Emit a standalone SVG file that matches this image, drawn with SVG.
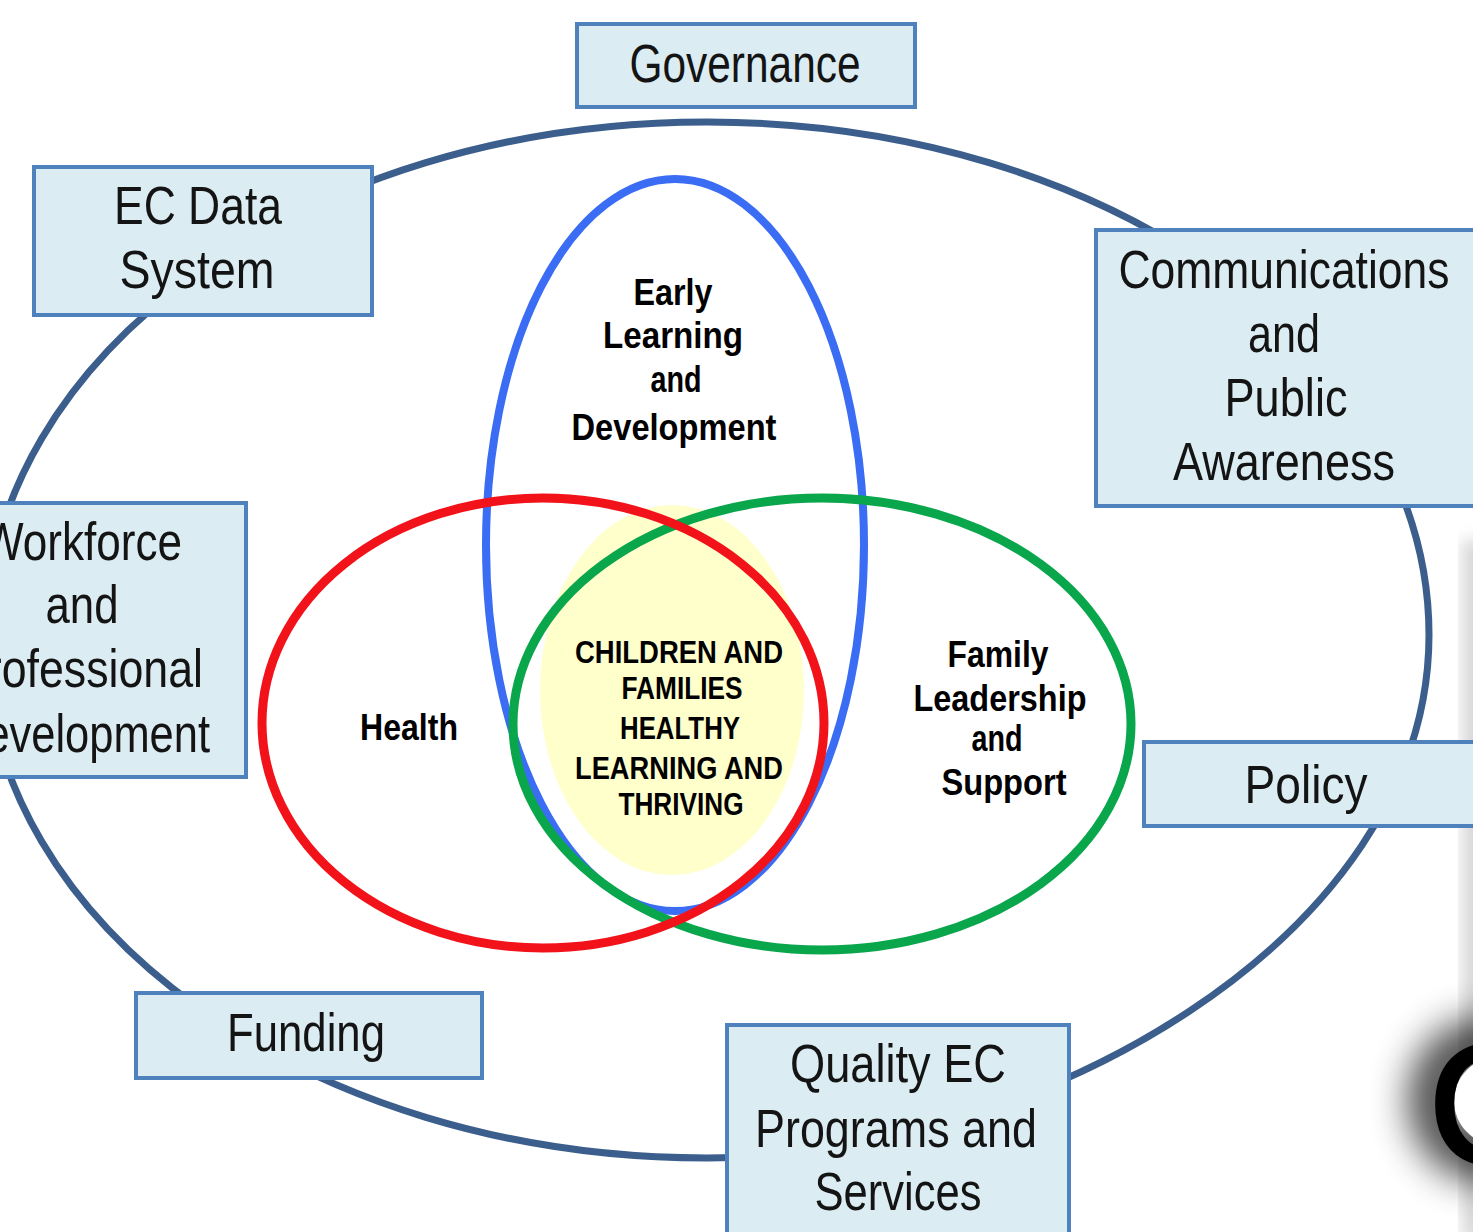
<svg xmlns="http://www.w3.org/2000/svg" width="1473" height="1232" viewBox="0 0 1473 1232">
<defs>
<style>
.box rect{fill:#dbedf3;stroke:#4f81bd;stroke-width:4}
.bt{font-family:"Liberation Sans",Arial,sans-serif;font-size:54px;fill:#141414;text-anchor:middle}
.it{font-family:"Liberation Sans",Arial,sans-serif;font-size:37px;font-weight:bold;fill:#000;text-anchor:middle}
.ct{font-family:"Liberation Sans",Arial,sans-serif;font-size:32px;font-weight:bold;fill:#000;text-anchor:middle}
.cm{font-family:"Liberation Sans",Arial,sans-serif;font-size:170px;fill:#000}
</style>
<filter id="blur" x="-100%" y="-100%" width="300%" height="300%"><feGaussianBlur stdDeviation="20"/></filter>
<filter id="soft"><feGaussianBlur stdDeviation="8"/></filter>
</defs>
<rect width="1473" height="1232" fill="#fff"/>
<rect x="1462" y="540" width="40" height="700" fill="#d8d8d8" filter="url(#soft)"/>

<g id="connectors">
<path id="outer" d="M707,122 C1106,122 1429,352 1429,635 C1429,940 1032,1158 707,1158 C308,1158 -15,926 -15,640 C-15,354 308,122 707,122 Z" fill="none" stroke="#3b5e8c" stroke-width="7"/>
</g>

<g id="center-core"><ellipse cx="672" cy="690" rx="132" ry="185" fill="#ffffcc"/></g>
<g id="early-learning">
<ellipse cx="675" cy="545" rx="189" ry="366" fill="none" stroke="#3a6cf4" stroke-width="8"/>
</g>
<g id="family">
<ellipse cx="822" cy="724" rx="309" ry="226" fill="none" stroke="#0aa64c" stroke-width="9"/>
</g>
<g id="health">
<ellipse cx="543" cy="723" rx="281" ry="225" fill="none" stroke="#f2121a" stroke-width="9"/>
</g>

<g id="labels-inner">
<text class="it" x="673" y="305" textLength="79" lengthAdjust="spacingAndGlyphs">Early</text>
<text class="it" x="673" y="348" textLength="140" lengthAdjust="spacingAndGlyphs">Learning</text>
<text class="it" x="676" y="392" textLength="51" lengthAdjust="spacingAndGlyphs">and</text>
<text class="it" x="674" y="440" textLength="205" lengthAdjust="spacingAndGlyphs">Development</text>
<text class="it" x="409" y="740" textLength="98" lengthAdjust="spacingAndGlyphs">Health</text>
<text class="it" x="998" y="667" textLength="101" lengthAdjust="spacingAndGlyphs">Family</text>
<text class="it" x="1000" y="711" textLength="173" lengthAdjust="spacingAndGlyphs">Leadership</text>
<text class="it" x="997" y="751" textLength="51" lengthAdjust="spacingAndGlyphs">and</text>
<text class="it" x="1004" y="795" textLength="125" lengthAdjust="spacingAndGlyphs">Support</text>
<text class="ct" x="679" y="663" textLength="208" lengthAdjust="spacingAndGlyphs">CHILDREN AND</text>
<text class="ct" x="682" y="699" textLength="121" lengthAdjust="spacingAndGlyphs">FAMILIES</text>
<text class="ct" x="680" y="739" textLength="120" lengthAdjust="spacingAndGlyphs">HEALTHY</text>
<text class="ct" x="679" y="779" textLength="208" lengthAdjust="spacingAndGlyphs">LEARNING AND</text>
<text class="ct" x="681" y="815" textLength="125" lengthAdjust="spacingAndGlyphs">THRIVING</text>
</g>

<g id="governance" class="box">
<rect x="577" y="24" width="338" height="83"/>
<text class="bt" x="745" y="82" textLength="231" lengthAdjust="spacingAndGlyphs">Governance</text>
</g>
<g id="ec-data-system" class="box">
<rect x="34" y="167" width="338" height="148"/>
<text class="bt" x="198" y="224" textLength="168" lengthAdjust="spacingAndGlyphs">EC Data</text>
<text class="bt" x="197" y="288" textLength="155" lengthAdjust="spacingAndGlyphs">System</text>
</g>
<g id="communications" class="box">
<rect x="1096" y="230" width="390" height="276"/>
<text class="bt" x="1284" y="288" textLength="331" lengthAdjust="spacingAndGlyphs">Communications</text>
<text class="bt" x="1284" y="352" textLength="72" lengthAdjust="spacingAndGlyphs">and</text>
<text class="bt" x="1286" y="416" textLength="123" lengthAdjust="spacingAndGlyphs">Public</text>
<text class="bt" x="1284" y="480" textLength="222" lengthAdjust="spacingAndGlyphs">Awareness</text>
</g>
<g id="workforce" class="box">
<rect x="-20" y="503" width="266" height="274"/>
<text class="bt" x="82" y="560" textLength="200" lengthAdjust="spacingAndGlyphs">Workforce</text>
<text class="bt" x="82" y="623" textLength="73" lengthAdjust="spacingAndGlyphs">and</text>
<text class="bt" x="80" y="687" textLength="246" lengthAdjust="spacingAndGlyphs">Professional</text>
<text class="bt" x="82" y="752" textLength="256" lengthAdjust="spacingAndGlyphs">Development</text>
</g>
<g id="policy" class="box">
<rect x="1144" y="742" width="340" height="84"/>
<text class="bt" x="1306" y="803" textLength="123" lengthAdjust="spacingAndGlyphs">Policy</text>
</g>
<g id="funding" class="box">
<rect x="136" y="993" width="346" height="85"/>
<text class="bt" x="306" y="1051" textLength="158" lengthAdjust="spacingAndGlyphs">Funding</text>
</g>
<g id="quality" class="box">
<rect x="727" y="1025" width="342" height="230"/>
<text class="bt" x="898" y="1082" textLength="216" lengthAdjust="spacingAndGlyphs">Quality EC</text>
<text class="bt" x="896" y="1147" textLength="282" lengthAdjust="spacingAndGlyphs">Programs  and</text>
<text class="bt" x="898" y="1210" textLength="167" lengthAdjust="spacingAndGlyphs">Services</text>
</g>

<g id="c-mark">
<ellipse cx="1482" cy="1100" rx="50" ry="58" fill="none" stroke="#000" stroke-width="40" opacity="0.85" filter="url(#blur)"/>
<ellipse cx="1498" cy="1101" rx="44" ry="44" fill="#fff"/>
<text class="cm" x="1428" y="1163" stroke="#000" stroke-width="3">C</text>
</g>
</svg>
